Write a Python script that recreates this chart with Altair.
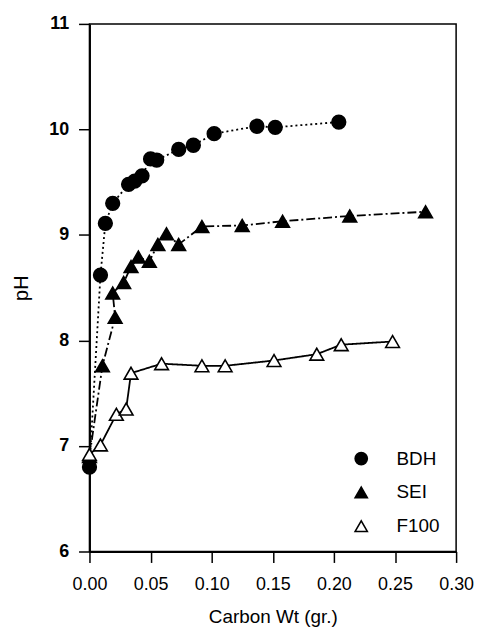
import altair as alt
import pandas as pd

series_names = ["BDH", "SEI", "F100"]

bdh_x = [0.0, 0.009, 0.013, 0.019, 0.032, 0.037, 0.043, 0.050, 0.055, 0.073, 0.085, 0.102, 0.137, 0.152, 0.204]
bdh_y = [6.80, 8.62, 9.11, 9.30, 9.48, 9.51, 9.56, 9.72, 9.71, 9.81, 9.85, 9.96, 10.03, 10.02, 10.07]

sei_x = [0.0, 0.0106, 0.021, 0.019, 0.028, 0.034, 0.040, 0.049, 0.056, 0.063, 0.073, 0.092, 0.125, 0.158, 0.213, 0.275]
sei_y = [6.90, 7.76, 8.22, 8.45, 8.55, 8.70, 8.79, 8.75, 8.91, 9.01, 8.91, 9.08, 9.09, 9.13, 9.18, 9.22]

f100_x = [0.0, 0.009, 0.022, 0.030, 0.034, 0.059, 0.092, 0.111, 0.151, 0.186, 0.206, 0.248]
f100_y = [6.92, 7.01, 7.30, 7.35, 7.69, 7.78, 7.76, 7.76, 7.81, 7.87, 7.96, 7.99]

x_ticks = [0.0, 0.05, 0.10, 0.15, 0.20, 0.25, 0.30]
y_ticks = [6, 7, 8, 9, 10, 11]

rows = []
for name, xs, ys in [("BDH", bdh_x, bdh_y), ("SEI", sei_x, sei_y), ("F100", f100_x, f100_y)]:
    for i, (xv, yv) in enumerate(zip(xs, ys)):
        rows.append({"series": name, "style": name + "_line", "wt": xv, "ph": yv, "idx": i})
df = pd.DataFrame(rows)

FONT = "Liberation Sans"

x_enc = alt.X("wt:Q", scale=alt.Scale(domain=[0, 0.30], nice=False),
              axis=alt.Axis(values=x_ticks, format=".2f", title="Carbon Wt (gr.)",
                            labelFontSize=18, titleFontSize=19, titleFontWeight="normal",
                            labelPadding=13, titlePadding=14, labelFlush=False))
y_enc = alt.Y("ph:Q", scale=alt.Scale(domain=[6, 11], nice=False, zero=False),
              axis=alt.Axis(values=y_ticks, format="d", title="pH",
                            labelFontSize=18, labelFontWeight="bold", titleFontSize=20,
                            titleFontWeight="normal", labelPadding=10, titlePadding=17,
                            labelFlush=False))

base = alt.Chart(df)

lines = base.mark_line(color="black", strokeWidth=1.8).encode(
    x=x_enc, y=y_enc,
    detail="series:N",
    order="idx:Q",
    strokeDash=alt.StrokeDash("style:N", legend=None,
                              scale=alt.Scale(domain=[s + "_line" for s in series_names],
                                              range=[[2, 3], [9, 3, 2, 3], [1, 0]])),
)

leg = alt.Legend(orient="none", legendX=264, legendY=428, title=None,
                 labelFontSize=19, labelFont=FONT, symbolSize=150,
                 symbolStrokeWidth=1.6,
                 labelOffset=26, rowPadding=14, padding=0)

points = base.mark_point(filled=False, strokeWidth=1.6, opacity=1, size=190).encode(
    x=x_enc, y=y_enc,
    shape=alt.Shape("series:N", sort=series_names,
                    scale=alt.Scale(domain=series_names, range=["circle", "triangle-up", "triangle-up"]),
                    legend=leg),
    fill=alt.Fill("series:N", sort=series_names,
                  scale=alt.Scale(domain=series_names, range=["black", "black", "white"]),
                  legend=leg),
    stroke=alt.Stroke("series:N", sort=series_names,
                      scale=alt.Scale(domain=series_names, range=["black", "black", "black"]),
                      legend=leg),
)

chart = alt.layer(lines, points).properties(
    width=369, height=531,
    padding={"left": 3, "top": 5, "right": 0, "bottom": 2},
).configure_view(
    stroke="black", strokeWidth=1.5
).configure_axis(
    grid=False, domainColor="black", domainWidth=2, tickColor="black", tickWidth=1.5,
    tickSize=11, labelColor="black", titleColor="black", labelFont=FONT, titleFont=FONT
).configure_legend(labelColor="black")

chart.save("out.html", embed_options={"renderer": "svg", "actions": False})
